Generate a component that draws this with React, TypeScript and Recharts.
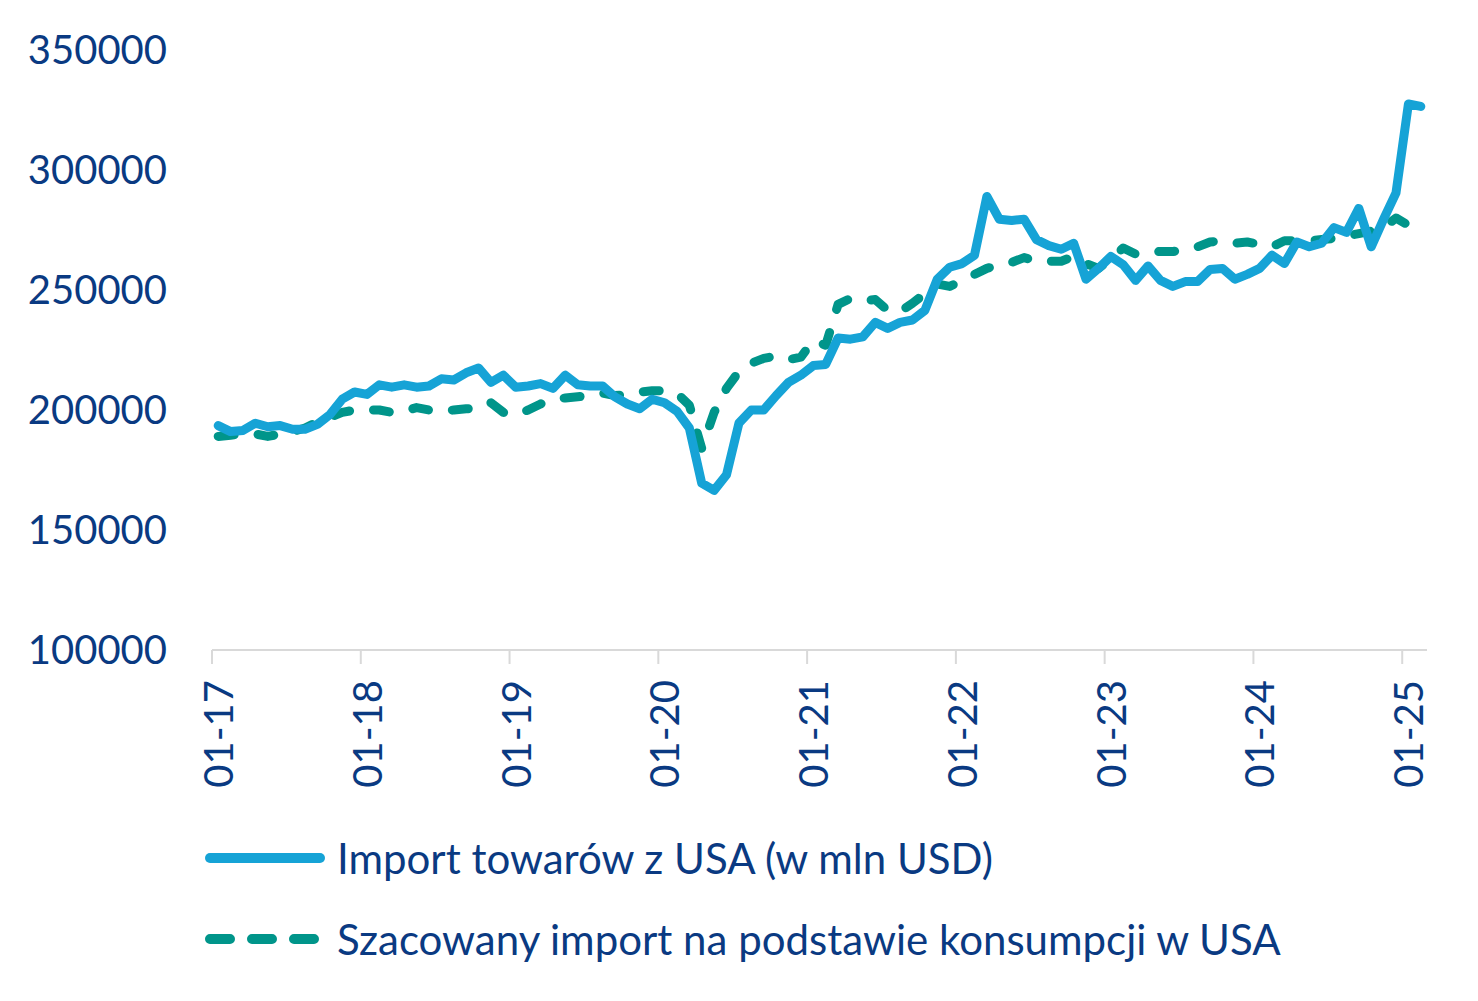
import { Legend, Line, LineChart, XAxis, YAxis } from 'recharts';

const navy = '#0a3a82';
const blue = '#16a3d6';
const teal = '#00958a';
const font = 'Lato, "Open Sans", sans-serif';

// monthly, 01-17 .. 02-25
const months: string[] = [];
for (let i = 0; i < 98; i++) {
  const m = String((i % 12) + 1).padStart(2, '0');
  months.push(`${m}-${17 + Math.floor(i / 12)}`);
}

const importUSA = [
  193500, 191000, 191500, 194500, 193000, 193500, 192000, 192000, 194000, 198000, 204500, 207500,
  206500, 210500, 209500, 210500, 209500, 210000, 213000, 212500, 215500, 217500, 211500, 214500,
  209500, 210000, 211000, 209000, 214500, 210500, 210000, 210000, 205500, 202500, 200500, 204500,
  203000, 199500, 192500, 169500, 166500, 173000, 194500, 200000, 200000, 206000, 211500, 214500,
  218500, 219000, 230000, 229500, 230500, 236500, 234000, 236500, 237500, 241500, 254500, 259500,
  261000, 264500, 289000, 279500, 279000, 279500, 271000, 268500, 267000, 269500, 254500, 259000,
  264000, 260500, 254000, 260000, 254000, 251500, 253500, 253500, 258500, 259000, 254500, 256500,
  259000, 264500, 261000, 270000, 268000, 269500, 276000, 274000, 284000, 268000, 279500, 290500,
  327500, 326500,
];

const estimatedImport = [
  189000, 189500, 190000, 190000, 189000, 190000, 191000, 192500, 195000, 197000, 199000, 200000,
  200000, 200000, 199000, 199500, 201000, 200000, 199500, 200000, 200500, 200500, 203000, 199000,
  198000, 200000, 202500, 204500, 205000, 205500, 206000, 207000, 206000, 206500, 207500, 208000,
  208000, 207000, 202000, 184000, 199000, 209000, 216000, 219500, 221500, 222500, 221000, 222000,
  229000, 227000, 244000, 246500, 245500, 246000, 241500, 241000, 244500, 248500, 252500, 251500,
  254000, 256500, 259000, 260500, 261500, 263500, 262000, 262000, 262000, 264000, 261000, 259000,
  263000, 267500, 265000, 266000, 266000, 266000, 267000, 268000, 270000, 270500, 269500, 270000,
  269000, 268000, 270500, 270500, 270500, 271000, 271500, 272500, 273500, 274500, 276000, 280000,
  277000, 278000,
];

const yTicks = [100000, 150000, 200000, 250000, 300000, 350000];
// ticks sit on category boundaries, every January
const xTicks = [0, 12, 24, 36, 48, 60, 72, 84, 96];

const data = months.map((label, i) => ({
  x: i + 0.5,
  label,
  importUSA: importUSA[i],
  estimated: estimatedImport[i],
}));

function XTick({ x, y, payload }: any) {
  return (
    <text
      x={x}
      y={y}
      dy={21}
      transform={`rotate(-90, ${x}, ${y})`}
      textAnchor="end"
      fill={navy}
      fontSize={40}
      fontFamily={font}
    >
      {months[payload.value]}
    </text>
  );
}

function LegendBox() {
  const row = { display: 'flex', alignItems: 'center', height: 81 } as const;
  return (
    <div style={{ fontFamily: font, fontSize: 42, color: navy, whiteSpace: 'nowrap' }}>
      <div style={row}>
        <svg width={130} height={20}>
          <line x1={10} y1={10} x2={120} y2={10} stroke={blue} strokeWidth={10} strokeLinecap="round" />
        </svg>
        <span style={{ marginLeft: 7 }}>Import towarów z USA (w mln USD)</span>
      </div>
      <div style={row}>
        <svg width={130} height={20}>
          <line
            x1={10}
            y1={10}
            x2={120}
            y2={10}
            stroke={teal}
            strokeWidth={10}
            strokeLinecap="round"
            strokeDasharray="20 22"
          />
        </svg>
        <span style={{ marginLeft: 7 }}>Szacowany import na podstawie konsumpcji w USA</span>
      </div>
    </div>
  );
}

export default function App() {
  return (
    <LineChart width={1462} height={985} data={data} margin={{ top: 42, right: 43, bottom: 193, left: 0 }}>
      <XAxis
        dataKey="x"
        type="number"
        domain={[0, 98]}
        ticks={xTicks}
        height={150}
        stroke="#d9d9d9"
        strokeWidth={2}
        tickSize={14}
        tickMargin={16}
        tick={<XTick />}
      />
      <YAxis
        domain={[100000, 350000]}
        ticks={yTicks}
        width={204}
        axisLine={false}
        tickLine={false}
        tickSize={0}
        tickMargin={45}
        tick={{ fill: navy, fontSize: 40, fontFamily: font }}
      />
      <Legend
        layout="horizontal"
        verticalAlign="middle"
        align="center"
        wrapperStyle={{ top: 809, left: 192, width: 'auto' }}
        content={() => <LegendBox />}
      />
      <Line
        dataKey="estimated"
        stroke={teal}
        strokeWidth={9}
        strokeDasharray="16 24"
        strokeLinecap="round"
        strokeLinejoin="round"
        dot={false}
        activeDot={false}
        isAnimationActive={false}
      />
      <Line
        dataKey="importUSA"
        stroke={blue}
        strokeWidth={9}
        strokeLinecap="round"
        strokeLinejoin="round"
        dot={false}
        activeDot={false}
        isAnimationActive={false}
      />
    </LineChart>
  );
}
